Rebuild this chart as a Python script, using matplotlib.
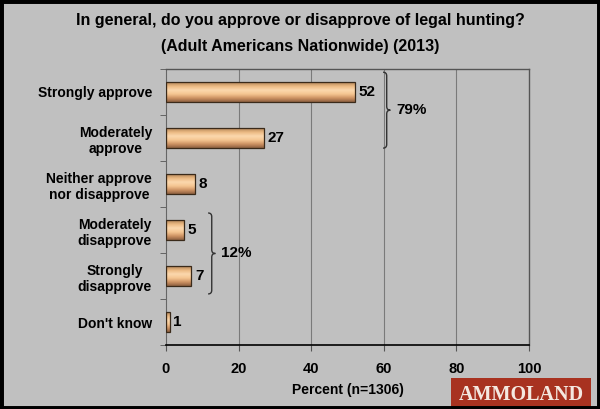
import matplotlib
matplotlib.use("Agg")
import matplotlib.pyplot as plt
import numpy as np
from matplotlib.patches import Rectangle, PathPatch
from matplotlib.path import Path
from matplotlib.colors import LinearSegmentedColormap

categories = ["Strongly approve", "Moderately\napprove", "Neither approve\nnor disapprove",
              "Moderately\ndisapprove", "Strongly\ndisapprove", "Don't know"]
values = [52, 27, 8, 5, 7, 1]
xticks = [0, 20, 40, 60, 80, 100]
group_labels = ["79%", "12%"]
group_first = [0, 3]
group_last = [1, 4]

# layout of the braces (x position, extension above first / below last bar)
brace_layout = [(59.8, 0.43, 0.22), (11.6, 0.37, 0.39)]

plt.rcParams['font.family'] = ['Liberation Sans', 'DejaVu Sans']
plt.rcParams['font.weight'] = 'bold'

bg = "#c0c0c0"
fig = plt.figure(figsize=(6, 4.09), dpi=100, facecolor=bg)
fig.patches.append(Rectangle((0, 0), 1, 1, transform=fig.transFigure, fill=False,
                             edgecolor="black", linewidth=5, zorder=10))
ax = fig.add_axes([166/600, 1-345/409, (529-166)/600, (345-69)/409])
ax.set_facecolor(bg)

n = len(categories)
ypos = np.arange(n)
bh = 0.42
cmap = LinearSegmentedColormap.from_list("g", ["#b08458", "#ecb982", "#fcd8ae", "#f5c692", "#cf9464", "#8e6040"])
grad = np.linspace(0, 1, 64).reshape(-1, 1)
bars = ax.barh(ypos, values, height=bh, color="none", edgecolor="#3a2a1a", linewidth=0.9, zorder=3)
for b in bars:
    x0, y0, w, h = b.get_x(), b.get_y(), b.get_width(), b.get_height()
    im = ax.imshow(grad, cmap=cmap, aspect='auto', extent=[x0, x0 + w, y0 + h, y0],
                   zorder=2, interpolation='bicubic')
    im.set_clip_path(b)

for y, v in zip(ypos, values):
    ax.text(v + 1.0, y, str(v), va='center', ha='left', fontsize=11, fontweight='bold', color='black')

ax.set_xlim(0, 100)
ax.set_ylim(n - 0.5, -0.5)
ax.set_xticks(xticks)
ax.set_xticklabels([str(t) for t in xticks], fontsize=10.5, fontweight='bold')
ax.set_yticks(ypos)
ax.set_yticklabels(categories, fontsize=10, fontweight='bold', multialignment='center',
                   linespacing=1.25)
ax.tick_params(axis='y', length=0, pad=10)
ax.set_yticks(np.arange(-0.5, n, 1), minor=True)
ax.tick_params(axis='y', which='minor', length=4, direction='out', color='#555555')
ax.tick_params(axis='x', length=4, direction='out', color='#555555', pad=8)
for t in xticks[1:-1]:
    ax.axvline(t, color='#7a7a7a', linewidth=0.8, zorder=1)
for s in ['top', 'right']:
    ax.spines[s].set_color('#555555')
    ax.spines[s].set_linewidth(1.0)
ax.spines['left'].set_color('#666666')
ax.spines['bottom'].set_color('black')
ax.spines['bottom'].set_linewidth(1.2)
ax.set_xlabel("Percent (n=1306)", fontsize=10, fontweight='bold', labelpad=5)


def brace(ax, x, y0, y1, label):
    w = 1.0
    ym = (y0 + y1) / 2
    k = 0.08
    xm = x + w
    verts = [(x, y0), (xm, y0), (xm, y0 + k),
             (xm, ym - k),
             (xm, ym), (xm + w, ym),
             (xm, ym), (xm, ym + k),
             (xm, y1 - k),
             (xm, y1), (x, y1)]
    codes = [Path.MOVETO, Path.CURVE3, Path.CURVE3,
             Path.LINETO,
             Path.CURVE3, Path.CURVE3,
             Path.CURVE3, Path.CURVE3,
             Path.LINETO,
             Path.CURVE3, Path.CURVE3]
    ax.add_patch(PathPatch(Path(verts, codes), fill=False, edgecolor='#333333',
                           linewidth=1.0, zorder=4, clip_on=False))
    ax.text(xm + w + 1.6, ym, label, va='center', ha='left', fontsize=11, fontweight='bold')


for lab, i0, i1, (bx, up, down) in zip(group_labels, group_first, group_last, brace_layout):
    brace(ax, bx, i0 - up, i1 + down, lab)

fig.text(0.5, 1 - 21/409, "In general, do you approve or disapprove of legal hunting?",
         ha='center', va='center', fontsize=11.5, fontweight='bold')
fig.text(0.5, 1 - 46/409, "(Adult Americans Nationwide) (2013)",
         ha='center', va='center', fontsize=11.5, fontweight='bold')

# watermark
fig.text(521/600, 1 - 395/409, "AMMOLAND", ha='center', va='center', fontsize=14.5,
         family=['Liberation Serif', 'DejaVu Serif'], fontweight='bold', color='#f4e8e0',
         bbox=dict(boxstyle='square,pad=0.35', facecolor='#a83220', edgecolor='none'))

fig.savefig("out.png", dpi=100, facecolor=bg)
